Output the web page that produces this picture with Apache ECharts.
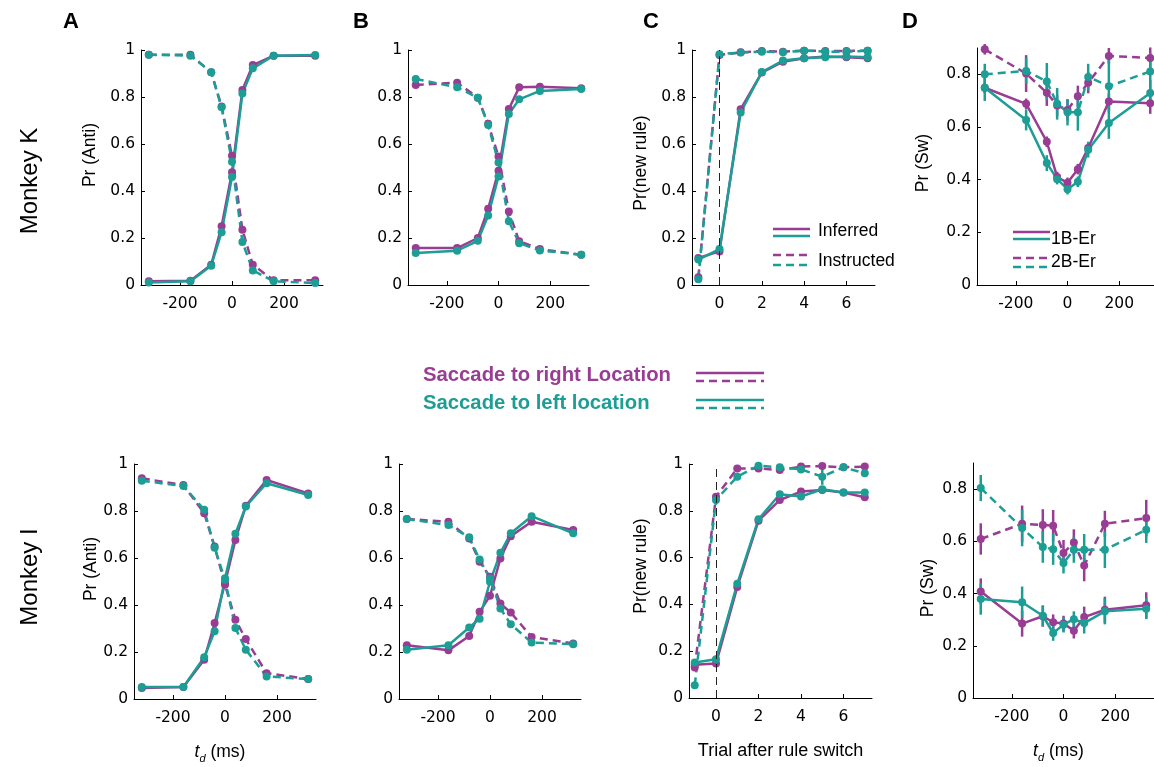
<!DOCTYPE html>
<html>
<head>
<meta charset="utf-8">
<script src="https://cdn.jsdelivr.net/npm/echarts@6/dist/echarts.min.js"></script>
<style>
  html, body { margin: 0; padding: 0; background: #fff; }
  #chart { width: 1154px; height: 767px; }
</style>
</head>
<body>
<div id="chart"></div>
<script>
// x positions
const tdX = [-320, -160, -80, -40, 0, 40, 80, 160, 320];
const trialX = [-1, 0, 1, 2, 3, 4, 5, 6, 7];
const tdTicks = [-200, 0, 200];
const trialTicks = [0, 2, 4, 6];
const probTicks = [0, 0.2, 0.4, 0.6, 0.8, 1];
const swTicks = [0, 0.2, 0.4, 0.6, 0.8];

// Monkey K, panel A
const kA_rightSolid = [0.016, 0.018, 0.086, 0.25, 0.48, 0.83, 0.936, 0.976, 0.976];
const kA_leftSolid = [0.011, 0.016, 0.082, 0.225, 0.46, 0.815, 0.922, 0.976, 0.979];
const kA_rightDash = [0.98, 0.98, 0.905, 0.76, 0.55, 0.235, 0.086, 0.02, 0.02];
const kA_leftDash = [0.98, 0.976, 0.905, 0.756, 0.525, 0.183, 0.062, 0.016, 0.008];
// Monkey K, panel B
const kB_rightSolid = [0.157, 0.157, 0.2, 0.324, 0.486, 0.749, 0.841, 0.844, 0.837];
const kB_leftSolid = [0.136, 0.146, 0.188, 0.296, 0.462, 0.728, 0.79, 0.826, 0.834];
const kB_rightDash = [0.851, 0.861, 0.797, 0.686, 0.547, 0.313, 0.186, 0.153, 0.129];
const kB_leftDash = [0.877, 0.841, 0.797, 0.681, 0.521, 0.271, 0.178, 0.147, 0.129];
// Monkey K, panel C
const kC_rightSolid = [0.115, 0.143, 0.748, 0.904, 0.95, 0.965, 0.972, 0.969, 0.965];
const kC_leftSolid = [0.108, 0.153, 0.734, 0.906, 0.955, 0.965, 0.969, 0.972, 0.969];
const kC_rightDash = [0.033, 0.979, 0.99, 0.996, 0.993, 0.997, 0.996, 0.996, 0.997];
const kC_leftDash = [0.025, 0.982, 0.989, 0.993, 0.99, 0.997, 0.993, 0.993, 0.997];
// Monkey K, panel D
const kD_rightSolid = [0.749, 0.688, 0.544, 0.41, 0.388, 0.44, 0.52, 0.697, 0.69];
const kD_rightSolidErr = [0.02, 0.02, 0.02, 0.02, 0.02, 0.02, 0.02, 0.03, 0.04];
const kD_leftSolid = [0.749, 0.627, 0.463, 0.402, 0.364, 0.392, 0.514, 0.615, 0.729];
const kD_leftSolidErr = [0.05, 0.04, 0.03, 0.02, 0.02, 0.02, 0.03, 0.06, 0.05];
const kD_rightDash = [0.895, 0.803, 0.73, 0.682, 0.665, 0.717, 0.768, 0.87, 0.862];
const kD_rightDashErr = [0.02, 0.07, 0.05, 0.04, 0.04, 0.04, 0.04, 0.03, 0.04];
const kD_leftDash = [0.8, 0.813, 0.773, 0.688, 0.656, 0.656, 0.79, 0.755, 0.811];
const kD_leftDashErr = [0.04, 0.05, 0.07, 0.06, 0.05, 0.07, 0.05, 0.1, 0.07];

// Monkey I, panel A
const iA_rightSolid = [0.047, 0.051, 0.167, 0.323, 0.493, 0.677, 0.822, 0.932, 0.875];
const iA_leftSolid = [0.051, 0.051, 0.178, 0.288, 0.514, 0.703, 0.819, 0.918, 0.868];
const iA_rightDash = [0.939, 0.911, 0.79, 0.649, 0.486, 0.337, 0.255, 0.11, 0.085];
const iA_leftDash = [0.929, 0.906, 0.805, 0.644, 0.507, 0.302, 0.21, 0.096, 0.085];
// Monkey I, panel B
const iB_rightSolid = [0.229, 0.207, 0.268, 0.371, 0.439, 0.598, 0.693, 0.754, 0.719];
const iB_leftSolid = [0.21, 0.229, 0.304, 0.342, 0.499, 0.622, 0.705, 0.778, 0.705];
const iB_rightDash = [0.766, 0.754, 0.683, 0.584, 0.52, 0.406, 0.368, 0.264, 0.236];
const iB_leftDash = [0.766, 0.74, 0.688, 0.594, 0.513, 0.385, 0.318, 0.24, 0.233];
// Monkey I, panel C
const iC_rightSolid = [0.142, 0.147, 0.474, 0.758, 0.846, 0.882, 0.889, 0.878, 0.858];
const iC_leftSolid = [0.152, 0.166, 0.488, 0.764, 0.871, 0.861, 0.892, 0.878, 0.878];
const iC_rightDash = [0.13, 0.86, 0.981, 0.981, 0.974, 0.989, 0.991, 0.986, 0.989];
const iC_leftDash = [0.054, 0.846, 0.946, 0.993, 0.986, 0.977, 0.946, 0.986, 0.96];
const iC_leftDashErr = [0.01, 0.02, 0.015, 0.01, 0.01, 0.01, 0.035, 0.01, 0.015];
// Monkey I, panel D
const iD_rightSolid = [0.408, 0.285, 0.313, 0.29, 0.285, 0.258, 0.31, 0.338, 0.355];
const iD_rightSolidErr = [0.05, 0.05, 0.04, 0.03, 0.03, 0.03, 0.04, 0.05, 0.05];
const iD_leftSolid = [0.379, 0.367, 0.315, 0.249, 0.281, 0.302, 0.287, 0.332, 0.342];
const iD_leftSolidErr = [0.06, 0.06, 0.04, 0.03, 0.03, 0.03, 0.04, 0.05, 0.04];
const iD_rightDash = [0.609, 0.667, 0.663, 0.66, 0.555, 0.596, 0.507, 0.667, 0.689];
const iD_rightDashErr = [0.06, 0.07, 0.06, 0.06, 0.05, 0.05, 0.06, 0.05, 0.07];
const iD_leftDash = [0.804, 0.651, 0.578, 0.57, 0.517, 0.568, 0.568, 0.568, 0.644];
const iD_leftDashErr = [0.05, 0.07, 0.06, 0.06, 0.04, 0.05, 0.06, 0.07, 0.05];

const PURPLE = '#993d94';
const TEAL = '#1c9e95';
const FONT = '"Liberation Sans", Arial, sans-serif';
const TICK_FONT = '"DejaVu Sans", sans-serif';
const DASH = [8, 5];

// grid: [left, top, width, height]; ylab: centre of the rotated y title
const panels = [
  { grid: [141, 50, 182, 235], x: tdX, xr: [-350, 350], xt: tdTicks, ymax: 1, yt: probTicks, yname: 'Pr (Anti)', ylab: [90, 155],
    rs: kA_rightSolid, ls: kA_leftSolid, rd: kA_rightDash, ld: kA_leftDash },
  { grid: [408, 50, 181, 235], x: tdX, xr: [-350, 350], xt: tdTicks, ymax: 1, yt: probTicks,
    rs: kB_rightSolid, ls: kB_leftSolid, rd: kB_rightDash, ld: kB_leftDash },
  { grid: [692, 50, 183, 235], x: trialX, xr: [-1.3, 7.35], xt: trialTicks, ymax: 1, yt: probTicks, yname: 'Pr(new rule)', ylab: [641, 163], vline: true,
    rs: kC_rightSolid, ls: kC_leftSolid, rd: kC_rightDash, ld: kC_leftDash },
  { grid: [977, 48, 181, 237], x: tdX, xr: [-350, 350], xt: tdTicks, ymax: 0.9, yt: swTicks, yname: 'Pr (Sw)', ylab: [923, 163],
    rs: kD_rightSolid, ls: kD_leftSolid, rd: kD_rightDash, ld: kD_leftDash,
    rsE: kD_rightSolidErr, lsE: kD_leftSolidErr, rdE: kD_rightDashErr, ldE: kD_leftDashErr },
  { grid: [134, 464, 182, 235], x: tdX, xr: [-350, 350], xt: tdTicks, ymax: 1, yt: probTicks, yname: 'Pr (Anti)', ylab: [91, 569], xname: 'td',
    rs: iA_rightSolid, ls: iA_leftSolid, rd: iA_rightDash, ld: iA_leftDash },
  { grid: [399, 464, 182, 235], x: tdX, xr: [-350, 350], xt: tdTicks, ymax: 1, yt: probTicks,
    rs: iB_rightSolid, ls: iB_leftSolid, rd: iB_rightDash, ld: iB_leftDash },
  { grid: [689, 464, 183, 234], x: trialX, xr: [-1.27, 7.34], xt: trialTicks, ymax: 1, yt: probTicks, yname: 'Pr(new rule)', ylab: [641, 566], vline: true,
    xname: 'Trial after rule switch',
    rs: iC_rightSolid, ls: iC_leftSolid, rd: iC_rightDash, ld: iC_leftDash, ldE: iC_leftDashErr },
  { grid: [973, 463, 181, 235], x: tdX, xr: [-350, 350], xt: tdTicks, ymax: 0.9, yt: swTicks, yname: 'Pr (Sw)', ylab: [928, 588], xname: 'td',
    rs: iD_rightSolid, ls: iD_leftSolid, rd: iD_rightDash, ld: iD_leftDash,
    rsE: iD_rightSolidErr, lsE: iD_leftSolidErr, rdE: iD_rightDashErr, ldE: iD_leftDashErr }
];

function lineSeries(idx, xs, ys, color, dashed) {
  return {
    type: 'line',
    xAxisIndex: idx,
    yAxisIndex: idx,
    data: xs.map((x, i) => [x, ys[i]]),
    symbol: 'circle',
    symbolSize: 8,
    itemStyle: { color: color },
    lineStyle: { color: color, width: 2.5, type: dashed ? DASH : 'solid' },
    animation: false,
    z: 3
  };
}

function errSeries(idx, xs, ys, err, color) {
  return {
    type: 'custom',
    xAxisIndex: idx,
    yAxisIndex: idx,
    data: xs.map((x, i) => [x, ys[i] - err[i], ys[i] + err[i]]),
    encode: { x: 0, y: [1, 2] },
    renderItem: (params, api) => {
      const p1 = api.coord([api.value(0), api.value(1)]);
      const p2 = api.coord([api.value(0), api.value(2)]);
      return {
        type: 'line',
        shape: { x1: p1[0], y1: p1[1], x2: p2[0], y2: p2[1] },
        style: { stroke: color, lineWidth: 2.5 }
      };
    },
    animation: false,
    z: 2
  };
}

function legLine(x1, x2, y, color, dashed) {
  return {
    type: 'line', silent: true,
    shape: { x1: x1, y1: y, x2: x2, y2: y },
    style: { stroke: color, lineWidth: 2.5, lineDash: dashed ? DASH : null }
  };
}
function txt(x, y, text, size, opts) {
  return {
    type: 'text', silent: true, x: x, y: y,
    style: Object.assign({ text: text, fontSize: size, fontFamily: FONT, fill: '#000', textVerticalAlign: 'middle' }, opts || {})
  };
}
function vtxt(x, y, text, size) {
  return Object.assign(txt(x, y, text, size, { textAlign: 'center' }), { rotation: Math.PI / 2 });
}

const grids = [], xAxes = [], yAxes = [], series = [], graphics = [];
panels.forEach((p, idx) => {
  grids.push({ left: p.grid[0], top: p.grid[1], width: p.grid[2], height: p.grid[3], outerBoundsMode: 'none' });
  const xa = {
    gridIndex: idx, type: 'value', min: p.xr[0], max: p.xr[1],
    axisLine: { show: true, onZero: false, lineStyle: { color: '#000', width: 1 } },
    axisTick: { show: true, inside: true, length: 4, customValues: p.xt, lineStyle: { color: '#000' } },
    axisLabel: { customValues: p.xt, fontSize: 15.5, color: '#000', fontFamily: TICK_FONT, margin: 11 },
    splitLine: { show: false }
  };
  if (p.xname === 'td') {
    xa.name = '{i|t}{s|d} (ms)';
    xa.nameLocation = 'middle';
    xa.nameGap = 42;
    xa.nameTextStyle = {
      fontSize: 17.5, color: '#000', fontFamily: FONT, padding: [0, 10, 0, 0],
      rich: {
        i: { fontSize: 17.5, fontStyle: 'italic', fontFamily: FONT, color: '#000' },
        s: { fontSize: 11, fontStyle: 'italic', fontFamily: FONT, color: '#000', padding: [12, 0, 0, 0] }
      }
    };
  } else if (p.xname) {
    xa.name = p.xname;
    xa.nameLocation = 'middle';
    xa.nameGap = 44;
    xa.nameTextStyle = { fontSize: 18, color: '#000', fontFamily: FONT };
  }
  xAxes.push(xa);
  yAxes.push({
    gridIndex: idx, type: 'value', min: 0, max: p.ymax,
    axisLine: { show: true, onZero: false, lineStyle: { color: '#000', width: 1 } },
    axisTick: { show: true, inside: true, length: 4, customValues: p.yt, lineStyle: { color: '#000' } },
    axisLabel: { customValues: p.yt, fontSize: 15.5, color: '#000', fontFamily: TICK_FONT, margin: 6 },
    splitLine: { show: false }
  });
  if (p.yname) graphics.push(vtxt(p.ylab[0], p.ylab[1], p.yname, 17.5));

  if (p.rsE) series.push(errSeries(idx, p.x, p.rs, p.rsE, PURPLE));
  if (p.lsE) series.push(errSeries(idx, p.x, p.ls, p.lsE, TEAL));
  if (p.rdE) series.push(errSeries(idx, p.x, p.rd, p.rdE, PURPLE));
  if (p.ldE) series.push(errSeries(idx, p.x, p.ld, p.ldE, TEAL));

  const rs = lineSeries(idx, p.x, p.rs, PURPLE, false);
  if (p.vline) {
    rs.markLine = {
      symbol: 'none', silent: true, animation: false,
      label: { show: false },
      lineStyle: { color: '#222', type: [8, 5], width: 1 },
      data: [{ xAxis: 0 }]
    };
  }
  series.push(rs);
  series.push(lineSeries(idx, p.x, p.rd, PURPLE, true));
  series.push(lineSeries(idx, p.x, p.ls, TEAL, false));
  series.push(lineSeries(idx, p.x, p.ld, TEAL, true));
});

graphics.push(
  txt(63, 22, 'A', 22, { fontWeight: 'bold' }),
  txt(353, 22, 'B', 22, { fontWeight: 'bold' }),
  txt(643, 22, 'C', 22, { fontWeight: 'bold' }),
  txt(902, 22, 'D', 22, { fontWeight: 'bold' }),
  vtxt(30, 181, 'Monkey K', 24),
  vtxt(30, 577, 'Monkey I', 24),
  // panel C legend
  legLine(773, 810, 229, PURPLE, false),
  legLine(773, 810, 236, TEAL, false),
  legLine(773, 810, 255, PURPLE, true),
  legLine(773, 810, 265, TEAL, true),
  txt(818, 231, 'Inferred', 17.5),
  txt(818, 261, 'Instructed', 17.5),
  // panel D legend
  legLine(1013, 1050, 232, PURPLE, false),
  legLine(1013, 1050, 239, TEAL, false),
  legLine(1013, 1050, 258, PURPLE, true),
  legLine(1013, 1050, 267, TEAL, true),
  txt(1051, 239, '1B-Er', 17.5),
  txt(1051, 262, '2B-Er', 17.5),
  // centre legend
  txt(423, 375, 'Saccade to right Location', 20.3, { fontWeight: 'bold', fill: PURPLE }),
  txt(423, 403, 'Saccade to left location', 20.3, { fontWeight: 'bold', fill: TEAL }),
  legLine(696, 764, 373, PURPLE, false),
  legLine(696, 764, 381, PURPLE, true),
  legLine(696, 764, 400, TEAL, false),
  legLine(696, 764, 408, TEAL, true)
);

const chart = echarts.init(document.getElementById('chart'));
chart.setOption({
  backgroundColor: '#fff',
  animation: false,
  grid: grids,
  xAxis: xAxes,
  yAxis: yAxes,
  series: series,
  graphic: graphics
});
</script>
</body>
</html>
